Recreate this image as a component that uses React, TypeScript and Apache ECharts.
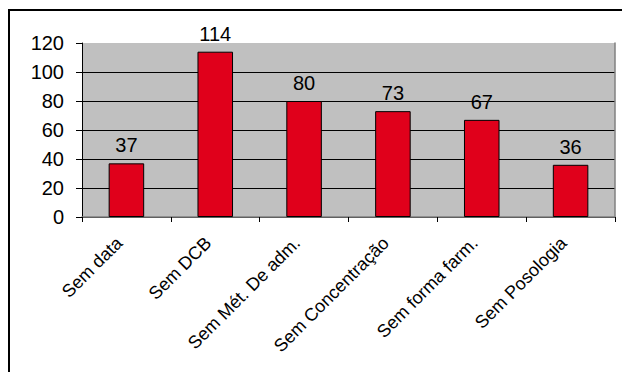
import React, { useEffect, useRef } from "react";
import * as echarts from "echarts";

const categories = ["Sem data", "Sem DCB", "Sem Mét. De adm.", "Sem Concentração", "Sem forma farm.", "Sem Posologia"];
const values = [37, 114, 80, 73, 67, 36];
const yMin = 0;
const yMax = 120;
const yInterval = 20;

export default function App() {
  const ref = useRef<HTMLDivElement>(null);
  useEffect(() => {
    document.body.style.margin = "0";
    const chart = echarts.init(ref.current!, null, { renderer: "svg" });
    const font = "Arial, 'Liberation Sans', sans-serif";
    chart.setOption({
      animation: false,
      backgroundColor: "#ffffff",
      textStyle: { fontFamily: font },
      grid: {
        left: 82,
        right: 7,
        top: 43,
        bottom: 155,
        show: true,
        backgroundColor: "#C0C0C0",
        borderWidth: 0,
      },
      xAxis: [
        {
          type: "category",
          data: categories,
          axisLine: { show: true, lineStyle: { color: "#000", width: 1 } },
          axisTick: { show: true, length: 5, lineStyle: { color: "#000" } },
          axisLabel: {
            rotate: 45,
            interval: 0,
            color: "#000",
            fontSize: 18,
            fontFamily: font,
            margin: 16,
            padding: [0, 10, 0, 0],
          },
        },
        {
          type: "category",
          position: "top",
          data: categories,
          axisLine: { show: true, lineStyle: { color: "#808080", width: 1.5 } },
          axisTick: { show: false },
          axisLabel: { show: false },
        },
      ],
      yAxis: [
        {
          type: "value",
          min: yMin,
          max: yMax,
          interval: yInterval,
          axisLine: { show: true, lineStyle: { color: "#000", width: 1 } },
          axisTick: { show: true, length: 6, lineStyle: { color: "#000" } },
          axisLabel: { color: "#000", fontSize: 20, fontFamily: font, margin: 18 },
          splitLine: { show: true, showMaxLine: false, lineStyle: { color: "#000", width: 1 } },
        },
        {
          type: "value",
          position: "right",
          min: yMin,
          max: yMax,
          interval: yInterval,
          axisLine: { show: true, lineStyle: { color: "#808080", width: 1.5 } },
          axisTick: { show: false },
          axisLabel: { show: false },
          splitLine: { show: false },
        },
      ],
      series: [
        {
          type: "bar",
          data: values,
          barWidth: "40%",
          itemStyle: { color: "#E0001B", borderColor: "#000", borderWidth: 1 },
          label: {
            show: true,
            position: "top",
            distance: 8,
            color: "#000",
            fontSize: 20,
            fontFamily: font,
          },
        },
      ],
      graphic: [
        {
          type: "rect",
          shape: { x: 9, y: 10, width: 700, height: 500 },
          style: { fill: "none", stroke: "#000", lineWidth: 2 },
          silent: true,
        },
      ],
    });
    return () => chart.dispose();
  }, []);
  return <div ref={ref} style={{ width: 622, height: 372 }} />;
}
